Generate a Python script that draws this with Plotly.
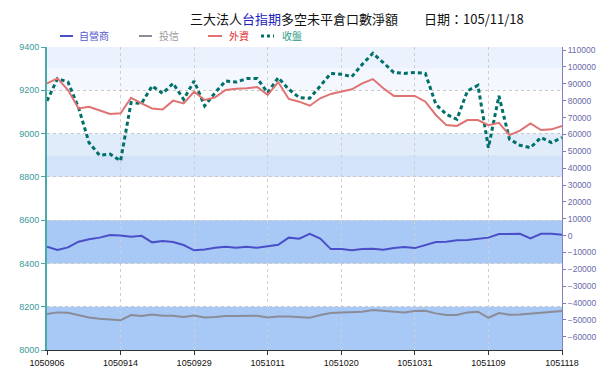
import plotly.graph_objects as go

dates = ["1050906","1050907","1050908","1050909","1050910","1050912","1050913","1050914",
         "1050919","1050920","1050921","1050922","1050923","1050926","1050929","1050930",
         "1051003","1051004","1051005","1051006","1051007","1051011","1051012","1051013",
         "1051014","1051017","1051018","1051019","1051020","1051021","1051024","1051025",
         "1051026","1051027","1051028","1051031","1051101","1051102","1051103","1051104",
         "1051107","1051108","1051109","1051110","1051111","1051114","1051115","1051116",
         "1051117","1051118"]

tick_labels = ["1050906","1050914","1050929","1051011","1051020","1051031","1051109","1051118"]

dealer = [-6600,-8500,-7000,-3600,-2200,-1200,300,100,-700,-100,-4000,-3200,-3800,-5600,
          -8700,-8200,-7200,-6600,-7200,-6600,-7200,-6400,-5400,-1200,-1800,1100,-1800,
          -8000,-8000,-8700,-8000,-7800,-8400,-7400,-6800,-7400,-5600,-3800,-3600,-2800,
          -2600,-1800,-1200,900,900,1100,-1600,1100,1100,500]

trust = [-46500,-45500,-45700,-47100,-48500,-49300,-49700,-50100,-47100,-47700,-46700,
         -47500,-47500,-48300,-47300,-48500,-48300,-47700,-47700,-47500,-47500,-48500,
         -47900,-47900,-48500,-48700,-47100,-45900,-45500,-45300,-45100,-44100,-44700,
         -45300,-45500,-44700,-44500,-46100,-47100,-47100,-45500,-45100,-48700,-45900,
         -46900,-46700,-46300,-45500,-45300,-44700]

foreign = [90200,93200,86300,75400,76400,74400,72100,72500,81700,78400,75400,74800,80000,
           78400,85300,80400,81900,86300,87100,87300,88100,83400,91000,81000,79400,77000,
           81400,84000,85300,86700,90200,92800,87300,82800,82800,82800,79400,71500,65500,
           65000,68500,68500,65500,66900,59600,62200,66500,62600,63000,65000]

close = [9151,9254,9238,9120,8958,8900,8905,8874,9143,9140,9220,9186,9232,9158,9243,9128,
         9189,9243,9238,9254,9254,9189,9258,9205,9166,9163,9220,9278,9274,9263,9320,9371,
         9328,9282,9278,9282,9278,9135,9089,9066,9197,9223,8935,9174,8974,8946,8935,8982,
         8958,8982]

series_names = ["自營商", "投信", "外資", "收盤"]
line_colors = ["#4a4fc8", "#8a8c98", "#e07272", "#00706a"]
text_colors = ["#5a5ad0", "#9a9a9a", "#e03030", "#2a9a8a"]

W, H = 600, 371
L, R, T, B = 47, 38, 47, 21
PW, PH = W - L - R, H - T - B

def px(x):
    return (x - L) / PW

def py(y):
    return (H - B - y) / PH

fig = go.Figure()

# background bands (left-axis units)
bands = [
    (9300, 9400, "rgba(222,234,252,0.6)"),
    (9200, 9300, "rgba(236,243,253,0.6)"),
    (8900, 9000, "rgba(222,234,251,0.9)"),
    (8800, 8900, "rgba(205,224,250,0.9)"),
    (8400, 8600, "rgba(168,200,245,1)"),
    (8000, 8200, "rgba(168,200,245,1)"),
]
for y0, y1, c in bands:
    fig.add_shape(type="rect", xref="x domain", yref="y", x0=0, x1=1, y0=y0, y1=y1,
                  fillcolor=c, line_width=0, layer="below")

fig.add_trace(go.Scatter(x=dates, y=dealer, yaxis="y2", mode="lines", name=series_names[0],
                         line=dict(color=line_colors[0], width=2)))
fig.add_trace(go.Scatter(x=dates, y=trust, yaxis="y2", mode="lines", name=series_names[1],
                         line=dict(color=line_colors[1], width=2)))
fig.add_trace(go.Scatter(x=dates, y=foreign, yaxis="y2", mode="lines", name=series_names[2],
                         line=dict(color=line_colors[2], width=2)))
fig.add_trace(go.Scatter(x=dates, y=close, yaxis="y", mode="lines", name=series_names[3],
                         line=dict(color=line_colors[3], width=3, dash="4px,3px")))

fig.update_layout(
    width=W, height=H,
    margin=dict(l=L, r=R, t=T, b=B, autoexpand=False),
    paper_bgcolor="white", plot_bgcolor="white",
    font=dict(family="Noto Sans CJK TC, sans-serif", size=9),
    showlegend=False,
    xaxis=dict(type="category", range=[0, len(dates) - 1],
               tickvals=tick_labels, ticktext=tick_labels,
               showgrid=True, gridcolor="#cfcfcf", griddash="dot", gridwidth=1,
               ticks="outside", ticklen=4, tickcolor="#333",
               showline=True, linecolor="#333", linewidth=1,
               tickfont=dict(family="Arial, Liberation Sans, sans-serif", size=9, color="#111"),
               zeroline=False),
    yaxis=dict(range=[8000, 9400], dtick=200, tick0=8000,
               showgrid=True, gridcolor="#c8c8c8", griddash="dot", gridwidth=1,
               ticks="outside", ticklen=4, tickcolor="#4aa8a8",
               showline=True, linecolor="#4aa8a8", linewidth=2,
               tickfont=dict(family="Arial, Liberation Sans, sans-serif", size=9, color="#3a9a9a"),
               zeroline=False),
    yaxis2=dict(range=[-67800, 111800], overlaying="y", side="right",
                tickvals=list(range(-60000, 110001, 10000)), tickformat="d",
                showgrid=False, ticks="outside", ticklen=3, tickcolor="#7a7ab8",
                showline=True, linecolor="#8080c0", linewidth=1,
                tickfont=dict(family="Arial, Liberation Sans, sans-serif", size=8.5, color="#6a6aaa"),
                zeroline=False),
)

# title
fig.add_annotation(xref="paper", yref="paper", x=px(294), y=py(18),
                   text='三大法人<span style="color:#2222bb">台指期</span>多空未平倉口數淨額',
                   showarrow=False, xanchor="center", yanchor="middle",
                   font=dict(size=13, color="#111", family="Noto Sans CJK TC"))
fig.add_annotation(xref="paper", yref="paper", x=px(474), y=py(18),
                   text="日期：105/11/18",
                   showarrow=False, xanchor="center", yanchor="middle",
                   font=dict(size=13, color="#111", family="Noto Sans CJK TC"))

# legend (samples + labels)
leg_y = 36
leg_items = [(60, 73, 77), (139, 152, 157), (208, 222, 227), (261, 274, 280)]
for k, (xa, xb, xt) in enumerate(leg_items):
    dash = "3px,3px" if k == 3 else "solid"
    fig.add_shape(type="line", xref="paper", yref="paper",
                  x0=px(xa), x1=px(xb), y0=py(leg_y), y1=py(leg_y),
                  line=dict(color=line_colors[k], width=3 if k == 3 else 2, dash=dash))
    fig.add_annotation(xref="paper", yref="paper", x=px(xt), y=py(leg_y),
                       text=series_names[k], showarrow=False,
                       xanchor="left", yanchor="middle",
                       font=dict(size=10, color=text_colors[k], family="Noto Sans CJK TC"))

fig.write_html("out.html", config={"displayModeBar": False},
               post_script="document.body.style.margin='0px';")
